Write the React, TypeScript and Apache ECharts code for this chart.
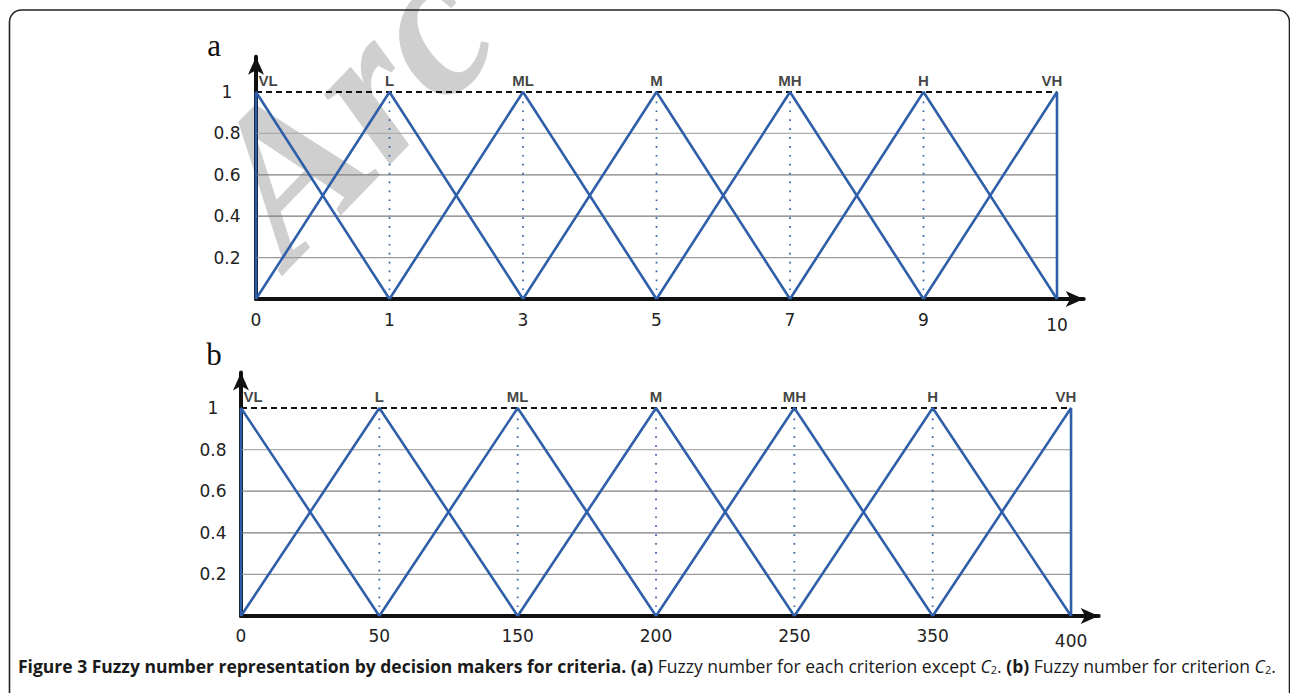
import React, { useEffect, useRef } from "react";
import * as echarts from "echarts";

// Ordinal tick labels of the two universes of discourse
const xLabelsA = ["0", "1", "3", "5", "7", "9", "10"];
const xLabelsB = ["0", "50", "150", "200", "250", "350", "400"];
// Linguistic terms
const termNames = ["VL", "L", "ML", "M", "MH", "H", "VH"];
// Triangular fuzzy numbers (left, peak, right) as positions on the ordinal tick scale
const fuzzyA = [
  [0, 0, 1],
  [0, 1, 2],
  [1, 2, 3],
  [2, 3, 4],
  [3, 4, 5],
  [4, 5, 6],
  [5, 6, 6],
];
const fuzzyB = [
  [0, 0, 1],
  [0, 1, 2],
  [1, 2, 3],
  [2, 3, 4],
  [3, 4, 5],
  [4, 5, 6],
  [5, 6, 6],
];
// membership degree at left, peak, right
const membership = [0, 1, 0];
// horizontal reference levels
const gridLevels = [0.2, 0.4, 0.6, 0.8];
const topLevel = 1;
const yTickLabels = ["0.2", "0.4", "0.6", "0.8", "1"];

const BLUE = "#2f5fa8";
const AXIS = "#111";
const TXT = "#222";
const gridColors = ["#9a9a9a", "#7a7a7a", "#808080", "#adadad"];

function buildPanel(idx: number, labels: string[], fuzzy: number[][]) {
  const series: any[] = [];
  const lastIdx = labels.length - 1;
  gridLevels.forEach((lv, i) => {
    series.push({
      type: "line",
      xAxisIndex: idx,
      yAxisIndex: idx,
      data: [
        [0, lv],
        [lastIdx, lv],
      ],
      symbol: "none",
      silent: true,
      lineStyle: { color: gridColors[i], width: 1.3 },
      z: 1,
    });
  });
  series.push({
    type: "line",
    xAxisIndex: idx,
    yAxisIndex: idx,
    data: [
      [0, topLevel],
      [lastIdx, topLevel],
    ],
    symbol: "none",
    silent: true,
    lineStyle: { color: "#111", width: 2, type: [6, 4] },
    z: 2,
  });
  fuzzy.forEach((f) => {
    const p = f[1];
    if (p > 0 && p < lastIdx) {
      series.push({
        type: "line",
        xAxisIndex: idx,
        yAxisIndex: idx,
        data: [
          [p, 0],
          [p, topLevel],
        ],
        symbol: "none",
        silent: true,
        lineStyle: { color: BLUE, width: 1.7, type: [1.7, 7.2] },
        z: 3,
      });
    }
  });
  fuzzy.forEach((f, i) => {
    series.push({
      type: "line",
      name: termNames[i],
      xAxisIndex: idx,
      yAxisIndex: idx,
      data: f.map((x, k) => [x, membership[k]]),
      symbol: "none",
      silent: true,
      lineStyle: { color: BLUE, width: 2.6 },
      z: 5,
    });
  });
  series.push({
    type: "scatter",
    xAxisIndex: idx,
    yAxisIndex: idx,
    symbolSize: 1,
    itemStyle: { color: "rgba(0,0,0,0)" },
    silent: true,
    data: fuzzy.map((f, i) => {
      const off = i === 0 ? [12, 0] : i === fuzzy.length - 1 ? [-5, 0] : [0, 0];
      return {
        value: [f[1], topLevel],
        label: {
          show: true,
          formatter: termNames[i],
          position: "top",
          distance: 3,
          offset: off,
          fontFamily: "Liberation Sans",
          fontWeight: "bold",
          fontSize: 15,
          color: "#111",
        },
      };
    }),
    z: 6,
  });
  return series;
}

function xAxisFor(idx: number, labels: string[], margin: number) {
  const lastIdx = labels.length - 1;
  return {
    gridIndex: idx,
    type: "value",
    min: 0,
    max: 6.2,
    interval: 1,
    axisLine: {
      show: true,
      onZero: false,
      symbol: ["none", "arrow"],
      symbolSize: [12, 18],
      lineStyle: { color: AXIS, width: 4 },
    },
    axisTick: { show: false },
    splitLine: { show: false },
    axisLabel: {
      margin,
      fontFamily: "DejaVu Sans",
      fontSize: 17,
      color: TXT,
      showMaxLabel: true,
      formatter: (v: number) => {
        const r = Math.round(v);
        if (Math.abs(v - r) > 1e-6 || r > lastIdx) return "";
        return r === lastIdx ? `{low|${labels[r]}}` : labels[r];
      },
      rich: {
        low: {
          fontFamily: "DejaVu Sans",
          fontSize: 17,
          color: TXT,
          padding: [5, 0, 0, 0],
        },
      },
    },
  };
}

function yAxisFor(idx: number, margin: number) {
  return {
    gridIndex: idx,
    type: "value",
    min: 0,
    max: 1.17,
    interval: 0.2,
    axisLine: {
      show: true,
      symbol: ["none", "arrow"],
      symbolSize: [12, 18],
      lineStyle: { color: AXIS, width: 4 },
    },
    axisTick: { show: false },
    splitLine: { show: false },
    axisLabel: {
      margin,
      align: "center",
      fontFamily: "DejaVu Sans",
      fontSize: 17,
      color: TXT,
      formatter: (v: number) => {
        const k = Math.round(v / 0.2);
        if (Math.abs(v - k * 0.2) > 1e-6 || k < 1 || k > yTickLabels.length) return "";
        return yTickLabels[k - 1];
      },
    },
  };
}

export default function App() {
  const ref = useRef<HTMLDivElement>(null);
  useEffect(() => {
    if (!ref.current) return;
    const chart = echarts.init(ref.current, undefined, { renderer: "svg" });
    const option: any = {
      animation: false,
      backgroundColor: "#ffffff",
      grid: [
        { left: 256, top: 56.8, width: 827.7, height: 242.2 },
        { left: 241, top: 372.6, width: 857.7, height: 243.4 },
      ],
      xAxis: [xAxisFor(0, xLabelsA, 12), xAxisFor(1, xLabelsB, 11)],
      yAxis: [yAxisFor(0, 29), yAxisFor(1, 28)],
      series: [...buildPanel(0, xLabelsA, fuzzyA), ...buildPanel(1, xLabelsB, fuzzyB)],
      graphic: [
        {
          type: "text",
          z: -10,
          silent: true,
          x: 314,
          y: 292,
          rotation: (46 * Math.PI) / 180,
          style: {
            text: "Arc",
            font: 'italic bold 210px "Liberation Serif"',
            fill: "#cfcfcf",
            align: "left",
            verticalAlign: "bottom",
          },
        },
        {
          type: "rect",
          silent: true,
          shape: { x: 9.5, y: 10, width: 1280, height: 720, r: 12 },
          style: { fill: "none", stroke: "#222", lineWidth: 1.6 },
        },
        {
          type: "text",
          x: 214,
          y: 45,
          style: {
            text: "a",
            font: '31px "Liberation Serif"',
            fill: "#111",
            align: "center",
            verticalAlign: "middle",
          },
        },
        {
          type: "text",
          x: 214,
          y: 354,
          style: {
            text: "b",
            font: '31px "Liberation Serif"',
            fill: "#111",
            align: "center",
            verticalAlign: "middle",
          },
        },
        {
          type: "text",
          x: 18,
          y: 666,
          style: {
            text:
              "{b|Figure 3 Fuzzy number representation by decision makers for criteria. (a)}{r| Fuzzy number for each criterion except }{i|C}{s|2}{r|. }{b|(b)}{r| Fuzzy number for criterion }{i|C}{s|2}{r|.}",
            verticalAlign: "middle",
            rich: {
              b: { fontFamily: "Open Sans", fontWeight: "bold", fontSize: 17.5, fill: "#1a1a1a" },
              r: { fontFamily: "Open Sans", fontSize: 17.5, fill: "#1a1a1a" },
              i: { fontFamily: "Open Sans", fontStyle: "italic", fontSize: 17.5, fill: "#1a1a1a" },
              s: { fontFamily: "Open Sans", fontSize: 11, fill: "#1a1a1a", padding: [7, 0, 0, 0] },
            },
          },
        },
      ],
    };
    chart.setOption(option);
    return () => chart.dispose();
  }, []);
  return (
    <div
      ref={ref}
      style={{ position: "fixed", left: 0, top: 0, width: 1290, height: 693 }}
    />
  );
}
